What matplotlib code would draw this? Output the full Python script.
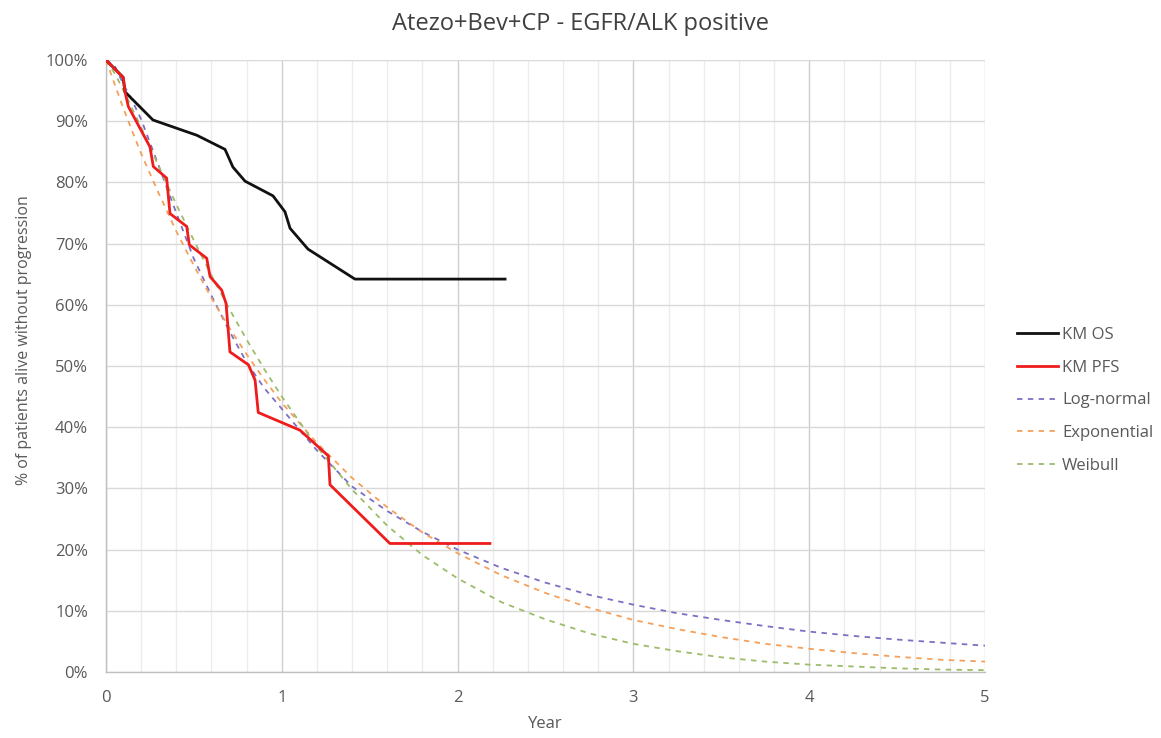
import matplotlib.pyplot as plt
from matplotlib.ticker import MultipleLocator, FuncFormatter

plt.rcParams['font.family'] = ['Open Sans', 'DejaVu Sans']

# Kaplan-Meier curves (years, % alive without progression)
os_years = [0, 0.097, 0.108, 0.267, 0.517, 0.677, 0.722, 0.791, 0.95, 1.018, 1.047, 1.149, 1.416, 2.27]
os_pct = [100, 97.2, 94.8, 90.2, 87.7, 85.4, 82.5, 80.2, 77.8, 75.2, 72.5, 69.1, 64.2, 64.2]

pfs_years = [0, 0.099, 0.108, 0.127, 0.25, 0.269, 0.345, 0.364, 0.459, 0.474, 0.573, 0.592,
             0.658, 0.683, 0.705, 0.81, 0.848, 0.866, 1.104, 1.265, 1.274, 1.615, 2.184]
pfs_pct = [100, 97.1, 94.8, 92.4, 85.8, 82.6, 80.7, 74.9, 72.8, 69.8, 67.6, 64.6,
           62.4, 60.2, 52.3, 50.2, 47.7, 42.4, 39.5, 35.3, 30.6, 21.0, 21.0]

# parametric fits
fit_years = [0, 0.05, 0.1, 0.15, 0.2, 0.3, 0.4, 0.5, 0.6, 0.7, 0.8, 0.9, 1.0, 1.2, 1.4, 1.6,
             1.8, 2.0, 2.25, 2.5, 2.75, 3.0, 3.25, 3.5, 3.75, 4.0, 4.25, 4.5, 4.75, 5.0]
lognormal = [100, 99.0, 96.0, 93.3, 90.3, 82.7, 75.0, 67.5, 61.5, 55.8, 50.6, 46.4, 43.0, 36.2,
             30.3, 26.3, 22.9, 20.0, 17.0, 14.6, 12.6, 11.0, 9.6, 8.5, 7.5, 6.6, 5.9, 5.3, 4.8, 4.3]
exponential = [100, 96.0, 92.0, 88.3, 84.7, 78.2, 72.0, 66.4, 61.1, 56.3, 51.9, 47.8, 44.0, 37.4,
               31.7, 26.9, 22.8, 19.4, 15.8, 12.9, 10.5, 8.5, 7.0, 5.7, 4.6, 3.8, 3.1, 2.5, 2.0, 1.7]
weibull = [100, 97.8, 95.0, 92.0, 89.0, 82.6, 76.4, 70.5, 64.8, 59.4, 54.3, 49.5, 45.0, 36.8,
           29.8, 23.9, 19.1, 15.3, 11.4, 8.6, 6.3, 4.6, 3.4, 2.4, 1.7, 1.2, 0.9, 0.6, 0.4, 0.3]

grey = '#595959'
W, H = 1161, 738

fig = plt.figure(figsize=(W / 100, H / 100), dpi=100)
ax = fig.add_axes([106 / W, 1 - 672 / H, 879 / W, 612 / H])

ax.plot(os_years, os_pct, color='#111111', lw=2.0, label='KM OS', zorder=5)
ax.plot(pfs_years, pfs_pct, color='#ee1c1c', lw=2.0, label='KM PFS', zorder=6)
ax.plot(fit_years, lognormal, color='#7b6fc4', lw=1.3, ls=(0, (3, 3)), label='Log-normal', zorder=4)
ax.plot(fit_years, exponential, color='#f5a05a', lw=1.3, ls=(0, (3, 3)), label='Exponential', zorder=4)
ax.plot(fit_years, weibull, color='#9cbc6a', lw=1.3, ls=(0, (3, 3)), label='Weibull', zorder=4)

ax.set_xlim(0, 5)
ax.set_ylim(0, 100)
ax.xaxis.set_major_locator(MultipleLocator(1))
ax.xaxis.set_minor_locator(MultipleLocator(0.2))
ax.yaxis.set_major_locator(MultipleLocator(10))
ax.yaxis.set_major_formatter(FuncFormatter(lambda v, p: f'{v:.0f}%'))

ax.grid(which='major', axis='y', color='#d9d9d9', lw=1.0)
ax.grid(which='major', axis='x', color='#cfcfcf', lw=1.0)
ax.grid(which='minor', axis='x', color='#ececec', lw=1.0)
ax.set_axisbelow(True)

for side in ['top', 'right']:
    ax.spines[side].set_visible(False)
for side in ['left', 'bottom']:
    ax.spines[side].set_color('#bfbfbf')
    ax.spines[side].set_linewidth(1.0)

ax.tick_params(which='both', length=0, colors=grey, labelsize=12)
ax.tick_params(axis='x', pad=13)
ax.tick_params(axis='y', pad=13)

fig.text(0.5 * (106 + 985) / W, 1 - 724 / H, 'Year', color=grey, fontsize=12, ha='center', va='center')
fig.text(24 / W, 1 - 340 / H, '% of patients alive without progression', color=grey,
         fontsize=11.5, rotation=90, ha='center', va='center')
fig.text(580 / W, 1 - 24 / H, 'Atezo+Bev+CP - EGFR/ALK positive', color='#404040',
         fontsize=17, ha='center', va='center')

leg = fig.legend(loc='upper left', bbox_to_anchor=(1017 / W, 1 - 327 / H), frameon=False,
                 fontsize=12, handlelength=2.45, labelspacing=1.0, handletextpad=0.25,
                 borderpad=0, borderaxespad=0)
for t in leg.get_texts():
    t.set_color(grey)

fig.savefig('out.png', dpi=100)
